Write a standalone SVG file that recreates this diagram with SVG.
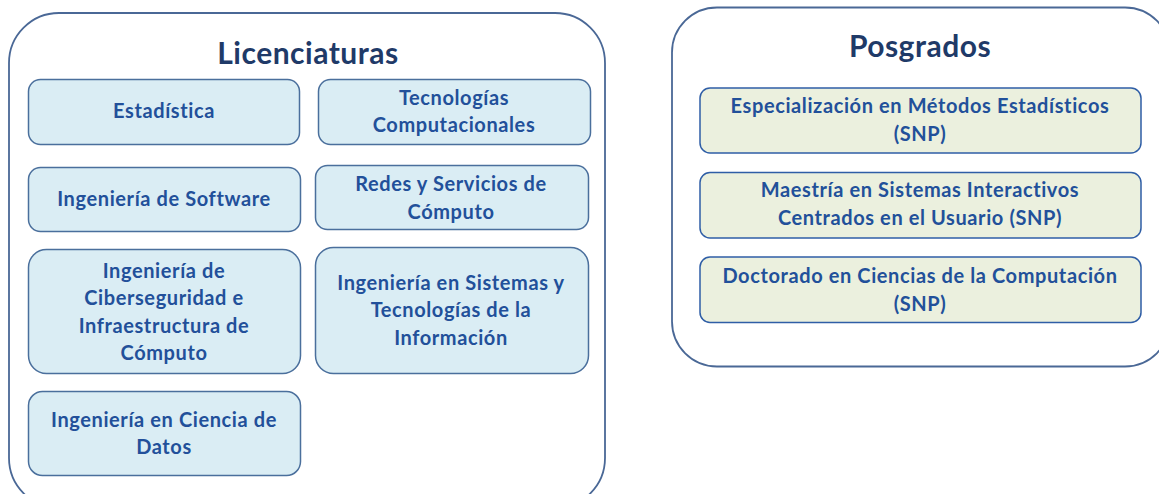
<svg xmlns="http://www.w3.org/2000/svg" width="1159" height="494" viewBox="0 0 1159 494">
<style>
.cont{fill:#ffffff;stroke:#4a6896;stroke-width:1.8}
.lic{fill:#daedf4;stroke:#4a6f9c;stroke-width:1.5}
.pos{fill:#ebf0de;stroke:#2f5ea6;stroke-width:1.5}
.title{font-family:Lato,"Liberation Sans",sans-serif;font-weight:700;font-size:30px;letter-spacing:0.5px;fill:#1f3a68;text-anchor:middle}
.t{font-family:Lato,"Liberation Sans",sans-serif;font-weight:700;font-size:20px;letter-spacing:0.6px;fill:#22509a;text-anchor:middle}
</style>
<g id="licenciaturas">
<rect class="cont" x="9" y="13" width="596" height="495" rx="50"/>
<text class="title" x="308" y="64">Licenciaturas</text>
</g>
<g id="estadistica">
<rect class="lic" x="28.5" y="79.5" width="271" height="65" rx="12"/>
<text class="t" x="164" y="118">Estadística</text>
</g>
<g id="tecnologias">
<rect class="lic" x="318.5" y="79.5" width="272" height="65" rx="12"/>
<text class="t" x="454" y="105">Tecnologías</text>
<text class="t" x="454" y="132">Computacionales</text>
</g>
<g id="software">
<rect class="lic" x="28.5" y="167.5" width="272" height="64" rx="12"/>
<text class="t" x="164" y="206">Ingeniería de Software</text>
</g>
<g id="redes">
<rect class="lic" x="315.5" y="165.5" width="273" height="64" rx="12"/>
<text class="t" x="451" y="191">Redes y Servicios de</text>
<text class="t" x="451" y="219">Cómputo</text>
</g>
<g id="ciberseguridad">
<rect class="lic" x="28.5" y="249.5" width="272" height="124" rx="18"/>
<text class="t" x="164" y="278">Ingeniería de</text>
<text class="t" x="164" y="305">Ciberseguridad e</text>
<text class="t" x="164" y="333">Infraestructura de</text>
<text class="t" x="164" y="360">Cómputo</text>
</g>
<g id="sistemas">
<rect class="lic" x="315.5" y="247.5" width="273" height="126" rx="18"/>
<text class="t" x="451" y="290">Ingeniería en Sistemas y</text>
<text class="t" x="451" y="317">Tecnologías de la</text>
<text class="t" x="451" y="345">Información</text>
</g>
<g id="datos">
<rect class="lic" x="28.5" y="391.5" width="272" height="84" rx="14"/>
<text class="t" x="164" y="427">Ingeniería en Ciencia de</text>
<text class="t" x="164" y="454">Datos</text>
</g>
<g id="posgrados">
<rect class="cont" x="672" y="7.5" width="498" height="359" rx="45"/>
<text class="title" x="920" y="57">Posgrados</text>
</g>
<g id="especializacion">
<rect class="pos" x="700" y="88" width="441" height="65" rx="10"/>
<text class="t" x="920" y="113">Especialización en Métodos Estadísticos</text>
<text class="t" x="920" y="141">(SNP)</text>
</g>
<g id="maestria">
<rect class="pos" x="700" y="172.5" width="441" height="65.5" rx="10"/>
<text class="t" x="920" y="197">Maestría en Sistemas Interactivos</text>
<text class="t" x="920" y="225">Centrados en el Usuario (SNP)</text>
</g>
<g id="doctorado">
<rect class="pos" x="700" y="257" width="441" height="65.5" rx="10"/>
<text class="t" x="920" y="283">Doctorado en Ciencias de la Computación</text>
<text class="t" x="920" y="311">(SNP)</text>
</g>
<g id="connectors"/>
</svg>
